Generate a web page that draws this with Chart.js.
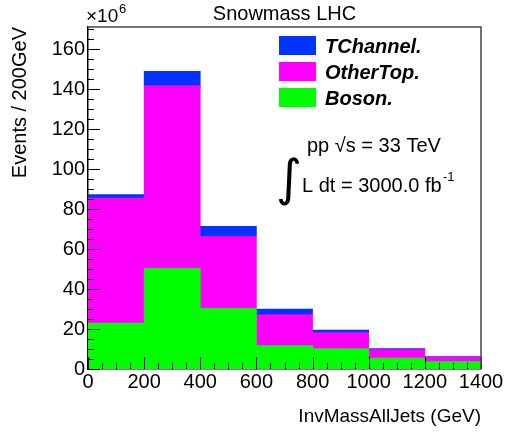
<!DOCTYPE html>
<html>
<head>
<meta charset="utf-8">
<script src="https://cdn.jsdelivr.net/npm/chart.js"></script>
<style>
  body { margin: 0; background: #fff; }
  canvas { display: block; }
</style>
</head>
<body>
<canvas id="c" width="508" height="436"></canvas>
<script>
// histogram bins (GeV), values in units of 10^6 events
const binCenters = [100, 300, 500, 700, 900, 1100, 1300];
const boson    = [23.0, 50.3, 30.3, 11.7, 10.2, 5.4, 3.7];
const otherTop = [62.5, 91.4, 36.0, 15.5, 8.0, 4.3, 2.3];
const tChannel = [1.7, 7.1, 5.0, 2.8, 1.3, 0.5, 0.2];
const seriesLabels = ['Boson.', 'OtherTop.', 'TChannel.'];
const seriesColors = ['#00ff00', '#ff00ff', '#0033ff'];

const FONT = "'Liberation Sans', Arial, Helvetica, sans-serif";

const toPoints = vals => vals.map((v, i) => ({ x: binCenters[i], y: v }));

// ROOT-style ticks inside the frame, plus top/right frame lines
const insideTicks = {
  id: 'insideTicks',
  afterDatasetsDraw(chart) {
    const { ctx, chartArea: a, scales: { x, y } } = chart;
    ctx.save();
    ctx.strokeStyle = '#000';
    ctx.lineWidth = 1;
    ctx.beginPath();
    for (let v = 0; v <= y.max; v += 5) {
      const py = Math.round(y.getPixelForValue(v)) + 0.5;
      const len = v % 20 === 0 ? 12 : 6;
      ctx.moveTo(a.left, py);
      ctx.lineTo(a.left + len, py);
    }
    for (let v = 0; v <= x.max; v += 50) {
      const px = Math.round(x.getPixelForValue(v)) + 0.5;
      const len = v % 200 === 0 ? 12 : 6;
      ctx.moveTo(px, a.bottom);
      ctx.lineTo(px, a.bottom - len);
    }
    ctx.stroke();
    ctx.strokeStyle = '#444';
    ctx.lineWidth = 1.5;
    ctx.beginPath();
    ctx.moveTo(a.left, a.top);
    ctx.lineTo(a.right, a.top);
    ctx.lineTo(a.right, a.bottom);
    ctx.stroke();
    ctx.restore();
  }
};

// title, exponent, legend box and the text annotation
const decorations = {
  id: 'decorations',
  afterDraw(chart) {
    const { ctx, chartArea: a } = chart;
    ctx.save();
    ctx.fillStyle = '#000';
    ctx.textBaseline = 'alphabetic';

    ctx.font = `20px ${FONT}`;
    ctx.textAlign = 'center';
    ctx.fillText('Snowmass LHC', (a.left + a.right) / 2, 20);

    ctx.textAlign = 'left';
    ctx.font = `19px ${FONT}`;
    ctx.fillText('\u00d710', a.left - 2, 22);
    ctx.font = `13px ${FONT}`;
    ctx.fillText('6', a.left + 31, 13);

    // legend, top entry = last dataset
    const ds = chart.data.datasets;
    for (let i = 0; i < ds.length; i++) {
      const d = ds[ds.length - 1 - i];
      const top = 36 + i * 26;
      ctx.fillStyle = d.backgroundColor;
      ctx.fillRect(279, top, 37, 19);
      ctx.fillStyle = '#000';
      ctx.font = `italic bold 20px ${FONT}`;
      ctx.fillText(d.label, 325, top + 17);
    }

    ctx.font = `20px ${FONT}`;
    ctx.fillText('pp \u221as = 33 TeV', 307, 152);
    ctx.fillText('L dt = 3000.0 fb', 302, 192);
    ctx.font = `13px ${FONT}`;
    ctx.fillText('-1', 443, 181);
    ctx.font = `50px 'DejaVu Sans', sans-serif`;
    ctx.fillText('\u222b', 276, 195);
    ctx.restore();
  }
};

new Chart(document.getElementById('c'), {
  type: 'bar',
  data: {
    datasets: [boson, otherTop, tChannel].map((vals, i) => ({
      label: seriesLabels[i],
      data: toPoints(vals),
      backgroundColor: seriesColors[i],
      borderWidth: 0,
      barPercentage: 1,
      categoryPercentage: 1
    }))
  },
  options: {
    responsive: false,
    animation: false,
    layout: { padding: { top: 27, right: 27, left: 0, bottom: 0 } },
    plugins: {
      legend: { display: false },
      tooltip: { enabled: false }
    },
    scales: {
      x: {
        type: 'linear',
        stacked: true,
        offset: false,
        min: 0,
        max: 1400,
        grid: { display: false, drawTicks: false },
        border: { display: true, color: '#000', width: 1.5 },
        ticks: {
          stepSize: 200,
          color: '#000',
          padding: 1,
          maxRotation: 0,
          callback: v => String(v),
          font: { family: FONT, size: 20 }
        },
        title: {
          display: true,
          text: 'InvMassAllJets (GeV)',
          align: 'end',
          color: '#000',
          padding: { top: 0, bottom: 8 },
          font: { family: FONT, size: 19 }
        },
        afterFit(scale) { scale.height = 67; }
      },
      y: {
        stacked: true,
        min: 0,
        max: 171,
        grid: { display: false, drawTicks: false },
        border: { display: true, color: '#000', width: 1.5 },
        ticks: {
          stepSize: 20,
          includeBounds: false,
          color: '#000',
          padding: 3,
          callback: v => String(v),
          font: { family: FONT, size: 20 }
        },
        title: {
          display: true,
          text: 'Events / 200GeV',
          align: 'end',
          color: '#000',
          padding: { top: 8, bottom: 0 },
          font: { family: FONT, size: 20 }
        },
        afterFit(scale) { scale.width = 88; }
      }
    }
  },
  plugins: [insideTicks, decorations]
});
</script>
</body>
</html>
